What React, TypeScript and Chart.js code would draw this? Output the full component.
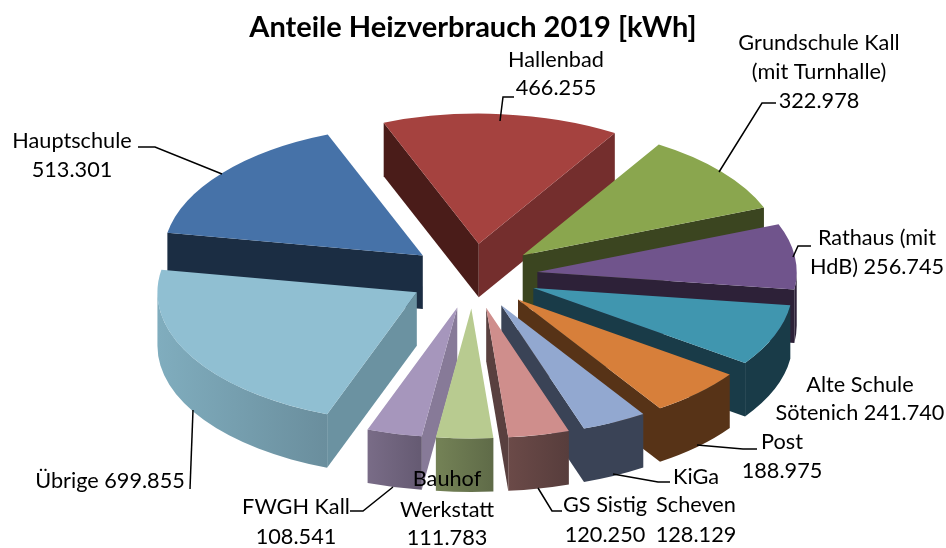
import React, { useEffect, useRef } from "react";
import { Chart, registerables } from "chart.js";

Chart.register(...registerables);

const TITLE = "Anteile Heizverbrauch 2019 [kWh]";
const categories = ["Hallenbad", "Grundschule Kall (mit Turnhalle)", "Rathaus (mit HdB)", "Alte Schule Sötenich", "Post", "KiGa Scheven", "GS Sistig", "Bauhof Werkstatt", "FWGH Kall", "Übrige", "Hauptschule"];
const values = [466255, 322978, 256745, 241740, 188975, 128129, 120250, 111783, 108541, 699855, 513301];

const topColors = ["#A5423F", "#8AA64E", "#70548C", "#4096AF", "#D77F3A", "#92A8D0", "#CF8E8C", "#B8CB90", "#A696BC", "#90BFD2", "#4672A8"];
const startWall = ["#4A1C19", "#3B4520", "#2D2138", "#193B48", "#573317", "#3A4356", "#59403F", "#66724C", "#877A98", "#6B92A1", "#1B2D43"];
const endWall = ["#742E2D", "#3B4520", "#2D2138", "#193B48", "#573317", "#3A4356", "#59403F", "#66724C", "#6B5F77", "#6B92A1", "#1B2D43"];
const outerFrom = ["#4A1C19", "#3B4520", "#2D2138", "#193B48", "#573317", "#3A4356", "#6B4A48", "#748256", "#796C87", "#80ADBE", "#1B2D43"];
const outerTo = ["#4A1C19", "#3B4520", "#2D2138", "#193B48", "#573317", "#3A4356", "#573D3C", "#5F6B48", "#655A72", "#6A8E9D", "#1B2D43"];

// text lines of each data label; {v} stands for the value of the slice
const labelLines = [
  ["Hallenbad", "{v}"],
  ["Grundschule Kall", "(mit Turnhalle)", "{v}"],
  ["Rathaus (mit", "HdB) {v}"],
  ["Alte Schule", "Sötenich {v}"],
  ["Post", "{v}"],
  ["KiGa", "Scheven", "{v}"],
  ["GS Sistig", "{v}"],
  ["Bauhof", "Werkstatt", "{v}"],
  ["FWGH Kall", "{v}"],
  ["Übrige {v}"],
  ["Hauptschule", "{v}"],
];

// annotation layout: label centre x, centre y of each line
const labelX = [556, 819, 877, 860, 782, 696, 605, 447, 296, 110, 72];
const labelY = [[60, 88], [43, 72, 101], [238, 267], [385, 413], [442, 471], [477, 505, 535], [505, 535], [479, 510, 538], [507, 537], [481], [141, 170]];
const leaders: number[][][] = [
  [[514, 97], [503, 97], [500, 121]],
  [[776, 103], [762, 103], [719, 172]],
  [[811, 246], [798, 246], [793, 257]],
  [],
  [[757, 449], [743, 449], [697, 445]],
  [[670, 482], [658, 482], [613, 474]],
  [[562, 511], [552, 511], [538, 488]],
  [],
  [[350, 511], [363, 511], [393, 487]],
  [[190, 489], [193, 410]],
  [[138, 147], [155, 147], [222, 174]],
];

const CX = 473;
const CY = 276;
const STRETCH_X = 1.995;
const RADIUS = 130;
const EXPLODE = 32.5;
const DEPTH = 53.5;
const FONT = "Lato, 'Open Sans', sans-serif";
const LABEL_SIZE = 21.7;

const fmt = (v: number) => String(v).replace(/\B(?=(\d{3})+$)/g, ".");

const pie3d = {
  id: "pie3d",
  beforeDatasetsDraw(chart: any) {
    const ctx: CanvasRenderingContext2D = chart.ctx;
    const arcs: any[] = chart.getDatasetMeta(0).data;
    const geo = arcs.map((el, i) => {
      const mid = (el.startAngle + el.endAngle) / 2;
      return {
        el,
        i,
        mid,
        tx: CX + Math.cos(mid) * EXPLODE * STRETCH_X,
        ty: CY + Math.sin(mid) * EXPLODE,
      };
    });
    const a = RADIUS * STRETCH_X;
    const b = RADIUS;
    const order = [...geo].sort((p, q) => Math.sin(p.mid) - Math.sin(q.mid));
    for (const g of order) {
      const { el, i, tx, ty } = g;
      const pt = (ang: number) => [tx + a * Math.cos(ang), ty + b * Math.sin(ang)];
      const radial = (ang: number, color: string) => {
        const [x, y] = pt(ang);
        ctx.fillStyle = color;
        ctx.beginPath();
        ctx.moveTo(tx, ty);
        ctx.lineTo(x, y);
        ctx.lineTo(x, y + DEPTH);
        ctx.lineTo(tx, ty + DEPTH);
        ctx.closePath();
        ctx.fill();
      };
      // only the cut faces turned towards the viewer are painted
      if (Math.cos(el.startAngle) < 0) radial(el.startAngle, startWall[i]);
      if (Math.cos(el.endAngle) > 0) radial(el.endAngle, endWall[i]);
      const s = Math.max(el.startAngle, 0);
      const e = Math.min(el.endAngle, Math.PI);
      if (e > s) {
        const [x1] = pt(s);
        const [x2] = pt(e);
        const grad = ctx.createLinearGradient(Math.min(x1, x2), 0, Math.max(x1, x2), 0);
        grad.addColorStop(0, outerFrom[i]);
        grad.addColorStop(1, outerTo[i]);
        ctx.fillStyle = grad;
        ctx.beginPath();
        ctx.ellipse(tx, ty, a, b, 0, s, e, false);
        ctx.ellipse(tx, ty + DEPTH, a, b, 0, e, s, true);
        ctx.closePath();
        ctx.fill();
      }
    }
    for (const g of geo) {
      ctx.save();
      ctx.translate(g.tx, g.ty);
      ctx.scale(STRETCH_X, 1);
      ctx.translate(-g.el.x, -g.el.y);
      g.el.draw(ctx, chart.chartArea);
      ctx.restore();
    }
    return false;
  },
  afterDraw(chart: any) {
    const ctx: CanvasRenderingContext2D = chart.ctx;
    ctx.save();
    ctx.strokeStyle = "#000";
    ctx.lineWidth = 1.5;
    leaders.forEach((pts) => {
      if (!pts.length) return;
      ctx.beginPath();
      pts.forEach(([x, y], k) => (k ? ctx.lineTo(x, y) : ctx.moveTo(x, y)));
      ctx.stroke();
    });
    ctx.fillStyle = "#000";
    ctx.font = `${LABEL_SIZE}px ${FONT}`;
    ctx.textAlign = "center";
    ctx.textBaseline = "middle";
    labelLines.forEach((lines, i) => {
      lines.forEach((t, k) => {
        ctx.fillText(t.replace("{v}", fmt(values[i])), labelX[i], labelY[i][k]);
      });
    });
    ctx.restore();
  },
};

export default function App() {
  const ref = useRef<HTMLCanvasElement>(null);
  useEffect(() => {
    const chart = new Chart(ref.current as HTMLCanvasElement, {
      type: "pie",
      data: {
        labels: categories,
        datasets: [{ data: values, backgroundColor: topColors, borderWidth: 0 }],
      },
      options: {
        animation: false,
        responsive: false,
        events: [],
        radius: RADIUS,
        rotation: -21.5,
        plugins: {
          legend: { display: false },
          tooltip: { enabled: false },
          title: {
            display: true,
            text: TITLE,
            color: "#000",
            font: { family: FONT, size: 29, weight: "bold" },
            padding: { top: 10, bottom: 4 },
          },
        },
      } as any,
      plugins: [pie3d as any],
    });
    return () => chart.destroy();
  }, []);
  return (
    <canvas
      ref={ref}
      width={946}
      height={548}
      style={{ position: "absolute", left: 0, top: 0, width: 946, height: 548 }}
    />
  );
}
